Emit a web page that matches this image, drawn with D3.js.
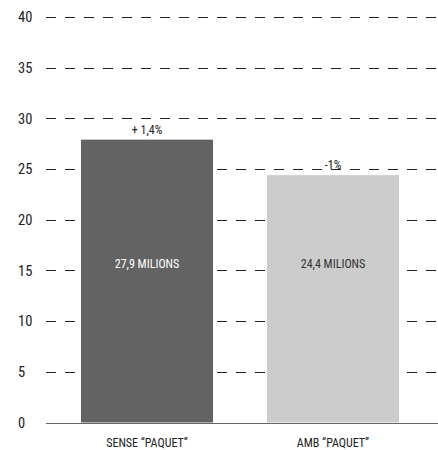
<!DOCTYPE html>
<html>
<head>
<meta charset="utf-8">
<script src="https://cdn.jsdelivr.net/npm/d3@7"></script>
<style>
  html, body { margin: 0; padding: 0; background: #fff; }
  svg text { font-family: "Liberation Sans Narrow", "Roboto Condensed", "Arial Narrow", sans-serif; }
</style>
</head>
<body>
<svg id="chart" width="438" height="450"></svg>
<script>
// Chart data
const categories = ["SENSE \u201CPAQUET\u201D", "AMB \u201CPAQUET\u201D"];
const values = [27.9, 24.4];
const valueLabels = ["27,9 MILIONS", "24,4 MILIONS"];
const changeLabels = ["+ 1,4%", "-1%"];
const barColors = ["#636363", "#cccccc"];
const insideTextColors = ["#ffffff", "#333333"];
const yTicks = [0, 5, 10, 15, 20, 25, 30, 35, 40];

const svg = d3.select("#chart");

const x = d3.scaleBand()
  .domain(categories)
  .range([54, 426])
  .paddingInner(0.29)
  .paddingOuter(0.145);

const y = d3.scaleLinear()
  .domain([0, 40])
  .range([422.5, 17]);

// Dashed horizontal grid lines (above zero)
svg.append("g")
  .selectAll("line")
  .data(yTicks.filter(d => d > 0))
  .join("line")
  .attr("x1", 46)
  .attr("x2", 438)
  .attr("y1", d => Math.round(y(d)) + 0.5)
  .attr("y2", d => Math.round(y(d)) + 0.5)
  .attr("stroke", "#222")
  .attr("stroke-width", 1)
  .attr("stroke-dasharray", "10,9");

// Y axis labels
const yAxis = d3.axisLeft(y).tickValues(yTicks).tickSize(0).tickPadding(0);
const yg = svg.append("g").attr("transform", "translate(18,0)").call(yAxis);
yg.select(".domain").remove();
yg.selectAll("text")
  .attr("text-anchor", "start")
  .attr("x", 0)
  .attr("font-size", 14.5)
  .attr("fill", "#222");

// Bars
svg.append("g")
  .selectAll("rect")
  .data(values)
  .join("rect")
  .attr("x", (d, i) => x(categories[i]))
  .attr("y", d => y(d))
  .attr("width", x.bandwidth())
  .attr("height", d => y(0) - y(d))
  .attr("fill", (d, i) => barColors[i]);

// Baseline
svg.append("line")
  .attr("x1", 46).attr("x2", 438)
  .attr("y1", Math.round(y(0)) + 0.5).attr("y2", Math.round(y(0)) + 0.5)
  .attr("stroke", "#666").attr("stroke-width", 1.2);

// Change labels above bars
svg.append("g")
  .selectAll("text")
  .data(values)
  .join("text")
  .attr("x", (d, i) => x(categories[i]) + x.bandwidth() / 2)
  .attr("y", d => y(d) - 6)
  .attr("text-anchor", "middle")
  .attr("font-size", 12)
  .attr("fill", "#222")
  .text((d, i) => changeLabels[i]);

// Value labels inside bars
svg.append("g")
  .selectAll("text")
  .data(values)
  .join("text")
  .attr("x", (d, i) => x(categories[i]) + x.bandwidth() / 2)
  .attr("y", 268)
  .attr("text-anchor", "middle")
  .attr("font-size", 12)
  .attr("fill", (d, i) => insideTextColors[i])
  .text((d, i) => valueLabels[i]);

// Category labels
svg.append("g")
  .selectAll("text")
  .data(categories)
  .join("text")
  .attr("x", d => x(d) + x.bandwidth() / 2)
  .attr("y", 447)
  .attr("text-anchor", "middle")
  .attr("font-size", 12)
  .attr("fill", "#222")
  .text(d => d);
</script>
</body>
</html>
